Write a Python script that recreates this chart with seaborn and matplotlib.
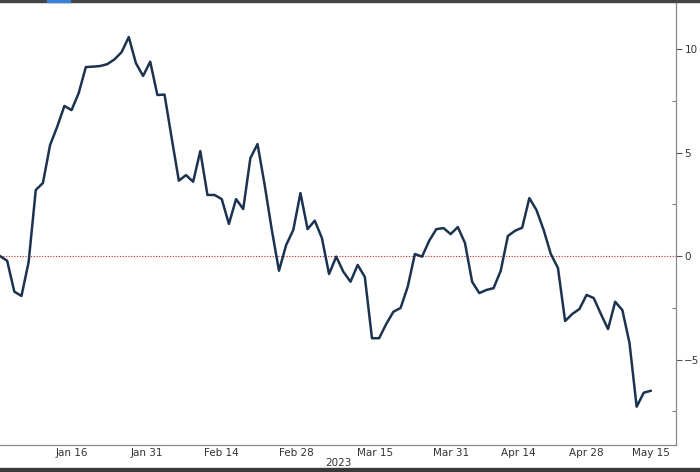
import numpy as np
import pandas as pd
import matplotlib
matplotlib.use("Agg")
import matplotlib.pyplot as plt
import seaborn as sns

# trading-day series (one value per business day)
values = [
    0.00, -0.23, -1.72, -1.93, -0.30, 3.19, 3.53, 5.36, 6.25, 7.25,
    7.05, 7.87, 9.13, 9.15, 9.18, 9.27, 9.50, 9.85, 10.58, 9.32,
    8.70, 9.39, 7.78, 7.80, 5.70, 3.64, 3.91, 3.59, 5.07, 2.95,
    2.95, 2.75, 1.55, 2.75, 2.27, 4.73, 5.41, 3.43, 1.26, -0.71,
    0.53, 1.26, 3.04, 1.30, 1.71, 0.87, -0.87, -0.03, -0.76, -1.24,
    -0.43, -1.01, -3.97, -3.97, -3.28, -2.69, -2.51, -1.48, 0.10, -0.03,
    0.74, 1.30, 1.35, 1.06, 1.40, 0.63, -1.24, -1.79, -1.64, -1.55,
    -0.71, 0.97, 1.22, 1.37, 2.80, 2.22, 1.26, 0.10, -0.58, -3.14,
    -2.80, -2.56, -1.88, -2.03, -2.80, -3.53, -2.21, -2.61, -4.20, -7.28,
    -6.60, -6.51,
]
month_labels = ["Jan 16", "Jan 31", "Feb 14", "Feb 28", "Mar 15",
                "Mar 31", "Apr 14", "Apr 28", "May 15"]
year_label = "2023"
y_ticks = [10, 5, 0, -5]

df = pd.DataFrame({"day": np.arange(len(values)), "value": values})

sns.set_style("white")
plt.rcParams["font.family"] = ["Liberation Sans Narrow", "DejaVu Sans"]

fig = plt.figure(figsize=(7, 4.72), dpi=100)
ax = fig.add_axes([0, 0.0572, 0.9657, 0.9428])

sns.lineplot(data=df, x="day", y="value", ax=ax, color="#1b3350",
             linewidth=1.8)
ax.axhline(0, color="#d02020", linestyle=(0, (1, 1.5)), linewidth=0.8, zorder=1)

ax.set_xlim(0, 94.5)
ax.set_ylim(-9.13, 12.37)

# y axis on the right
ax.yaxis.tick_right()
ax.set_yticks(y_ticks)
ax.set_yticks([7.5, 2.5, -2.5, -7.5], minor=True)
ax.tick_params(axis="y", which="major", direction="out", length=4, width=0.8,
               colors="#555555", labelcolor="#333333", labelsize=7.5, pad=2)
ax.tick_params(axis="y", which="minor", direction="in", length=3, width=0.7,
               colors="#777777")

# x axis: boundary ticks, labels centred between them
tick_pos = [5, 15, 26, 36, 47, 58, 68, 77, 87]
label_pos = [10, 20.5, 31, 41.5, 52.5, 63, 72.5, 82, 91]
ax.set_xticks(tick_pos)
ax.set_xticklabels([])
ax.set_xticks(label_pos, minor=True)
ax.set_xticklabels(month_labels, minor=True)
ax.tick_params(axis="x", which="major", direction="in", length=3, width=0.7,
               colors="#777777")
ax.tick_params(axis="x", which="minor", length=0, labelcolor="#333333",
               labelsize=7.5, pad=2)
ax.set_xlabel(year_label, fontsize=7.5, color="#333333", labelpad=0)
ax.set_ylabel("")

for side in ["top", "left"]:
    ax.spines[side].set_visible(False)
for side in ["bottom", "right"]:
    ax.spines[side].set_color("#888888")
    ax.spines[side].set_linewidth(0.9)

# screenshot frame edges
fig.add_artist(plt.Rectangle((0, 0.9958), 1, 0.0042, color="#444444",
                             transform=fig.transFigure))
fig.add_artist(plt.Rectangle((0.067, 0.9958), 0.033, 0.0042, color="#3d7fd6",
                             transform=fig.transFigure))
fig.add_artist(plt.Rectangle((0, 0), 1, 0.0085, color="#3a3a3a",
                             transform=fig.transFigure))

fig.savefig("out.png", dpi=100)
plt.close(fig)
